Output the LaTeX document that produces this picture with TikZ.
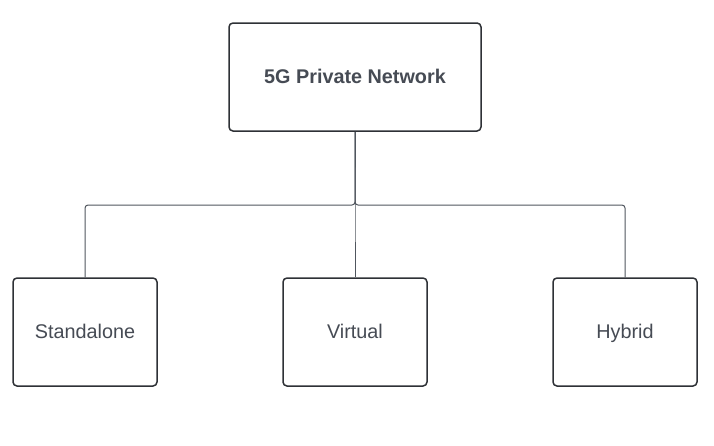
\documentclass[tikz,border=0pt]{standalone}
\usepackage{xcolor}
\usepackage{fontspec}
\setmainfont{Liberation Sans}
\usepackage{tikz}
\usetikzlibrary{positioning, calc}
\definecolor{boxline}{HTML}{2E3136}
\definecolor{linkline}{HTML}{50565E}
\definecolor{boxtext}{HTML}{464B54}

\begin{document}
\begin{tikzpicture}[x=1pt, y=-1pt,
		every node/.style={font=\fontsize{19.8}{24}\selectfont, text=boxtext,
			text height=14pt, text depth=2pt},
		card/.style={draw=boxline, line width=1.5pt, rounded corners=4pt, fill=white,
			minimum width=144pt, minimum height=108pt, inner sep=0pt},
		link/.style={draw=linkline, line width=1pt, rounded corners=3pt}]
	\useasboundingbox (0,0) rectangle (714,445);
	\node[card, minimum width=252pt, font=\bfseries\fontsize{19.8}{24}\selectfont] (net) at (355,77) {5G Private Network};
	\coordinate (bus) at (355,205);
	% the three deployment options hang off one shared bus line
	\foreach \x/\n/\l in {85/standalone/Standalone, 355/virtual/Virtual, 625/hybrid/Hybrid}{
		\node[card] (\n) at (\x,332) {\l};
		\draw[link] (net.south) -- (bus) -| (\n.north);
	}
\end{tikzpicture}
\end{document}
